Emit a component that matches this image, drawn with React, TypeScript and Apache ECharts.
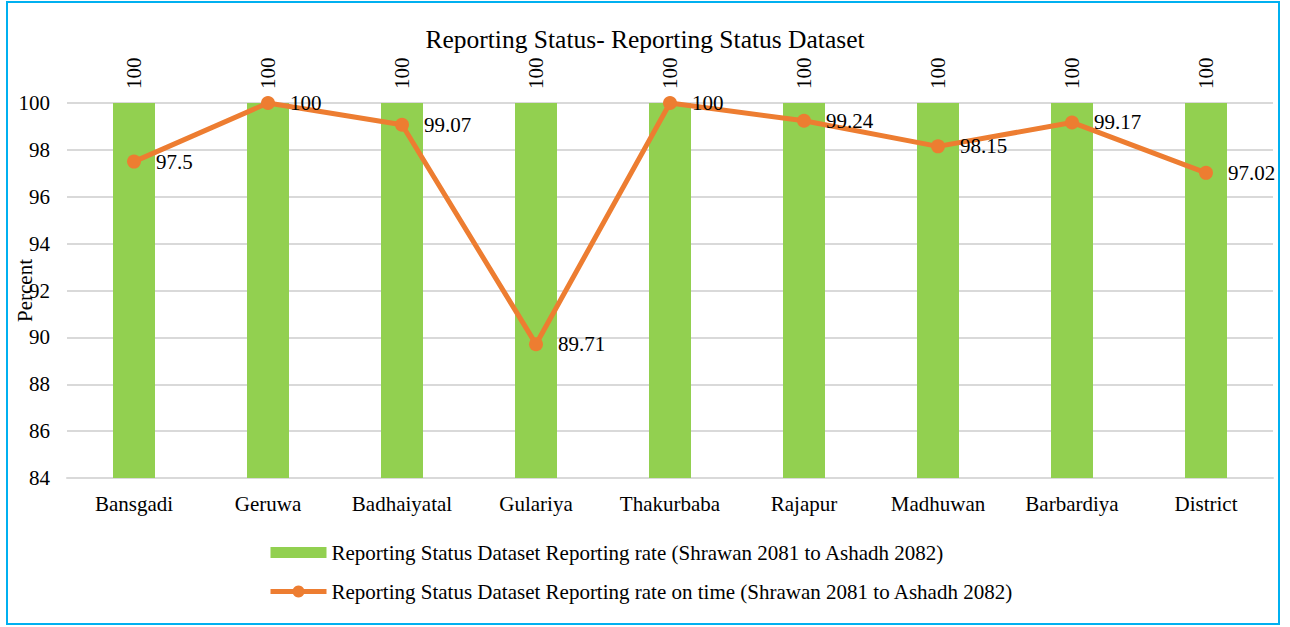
import React, { useEffect, useRef } from "react";
import * as echarts from "echarts";

const categories = ["Bansgadi", "Geruwa", "Badhaiyatal", "Gulariya", "Thakurbaba", "Rajapur", "Madhuwan", "Barbardiya", "District"];
const reportingRate = [100, 100, 100, 100, 100, 100, 100, 100, 100];
const reportingOnTime = [97.5, 100, 99.07, 89.71, 100, 99.24, 98.15, 99.17, 97.02];
const seriesNames = [
  "Reporting Status Dataset Reporting rate (Shrawan 2081 to Ashadh 2082)",
  "Reporting Status Dataset Reporting rate on time (Shrawan 2081 to Ashadh 2082)",
];
const titleText = "Reporting Status- Reporting Status Dataset";
const yAxisName = "Percent";

const FONT = "Liberation Serif";
const FS = 21;
const BAR_ICON = "path://M0,0L0.05,0L0.05,0.05Z M0,15L0.05,15L0.05,14.95Z M0,2L56,2L56,13L0,13Z";

export default function App() {
  const ref = useRef<HTMLDivElement>(null);
  useEffect(() => {
    document.body.style.margin = "0";
    const chart = echarts.init(ref.current!, null, { renderer: "svg" });
    chart.setOption({
      animation: false,
      textStyle: { fontFamily: FONT, color: "#000" },
      title: {
        text: titleText,
        left: "center",
        top: 21,
        textStyle: { fontFamily: FONT, fontSize: 25.5, fontWeight: "normal", color: "#000" },
      },
      graphic: [
        {
          type: "rect",
          shape: { x: 7, y: 2, width: 1272, height: 622 },
          style: { fill: "none", stroke: "#00B0F0", lineWidth: 2 },
          silent: true,
        },
      ],
      grid: { left: 67, right: 17, top: 103, bottom: 149, containLabel: false, outerBoundsMode: "none" },
      legend: {
        orient: "vertical",
        left: 263,
        top: 537,
        itemWidth: 56,
        itemHeight: 15,
        itemGap: 18,
        lineStyle: { width: 5 },
        textStyle: { fontFamily: FONT, fontSize: FS, color: "#000" },
        data: [
          { name: seriesNames[0], icon: BAR_ICON },
          { name: seriesNames[1] },
        ],
      },
      xAxis: {
        type: "category",
        data: categories,
        axisTick: { show: false },
        axisLine: { lineStyle: { color: "#d9d9d9", width: 2 } },
        axisLabel: { fontFamily: FONT, fontSize: FS, color: "#000", margin: 15 },
      },
      yAxis: {
        type: "value",
        min: 84,
        max: 100,
        interval: 2,
        name: yAxisName,
        nameLocation: "middle",
        nameGap: 32,
        nameMoveOverlap: false,
        nameTextStyle: { fontFamily: FONT, fontSize: FS, color: "#000" },
        axisLine: { show: false },
        axisTick: { show: false },
        axisLabel: { fontFamily: FONT, fontSize: FS, color: "#000", margin: 17 },
        splitLine: { lineStyle: { color: "#d9d9d9", width: 2 } },
      },
      series: [
        {
          name: seriesNames[0],
          type: "bar",
          data: reportingRate,
          barWidth: 42,
          itemStyle: { color: "#92D050" },
          label: {
            show: true,
            position: "top",
            rotate: 90,
            align: "left",
            verticalAlign: "middle",
            distance: 14,
            fontFamily: FONT,
            fontSize: FS,
            color: "#000",
          },
        },
        {
          name: seriesNames[1],
          type: "line",
          data: reportingOnTime,
          symbol: "circle",
          symbolSize: 14,
          lineStyle: { color: "#ED7D31", width: 5 },
          itemStyle: { color: "#ED7D31" },
          label: {
            show: true,
            position: "right",
            distance: 15,
            fontFamily: FONT,
            fontSize: FS,
            color: "#000",
          },
        },
      ],
    });
    return () => chart.dispose();
  }, []);
  return <div ref={ref} style={{ width: 1290, height: 627 }} />;
}
